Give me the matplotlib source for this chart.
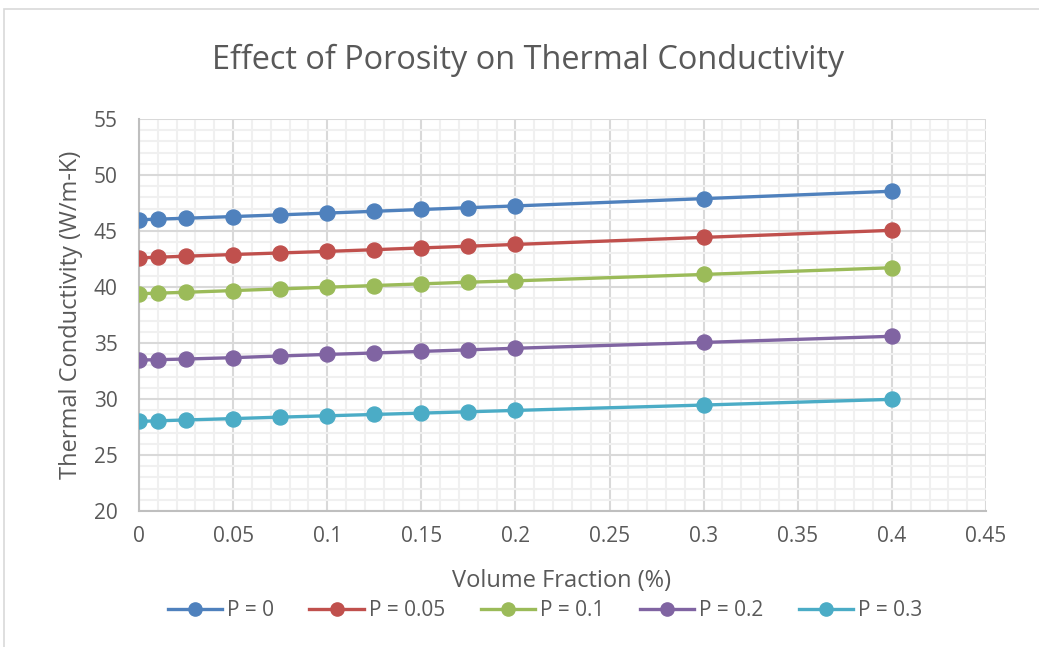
import matplotlib
matplotlib.use("Agg")
import matplotlib.pyplot as plt
from matplotlib.patches import Rectangle
from matplotlib.ticker import MultipleLocator
from matplotlib.lines import Line2D

plt.rcParams['font.family'] = ['Open Sans', 'DejaVu Sans']

volume_fraction = [0, 0.01, 0.025, 0.05, 0.075, 0.1, 0.125, 0.15, 0.175, 0.2, 0.3, 0.4]
series_labels = ["P = 0", "P = 0.05", "P = 0.1", "P = 0.2", "P = 0.3"]
p_000 = [46.0, 46.06, 46.14, 46.29, 46.44, 46.6, 46.76, 46.92, 47.08, 47.24, 47.89, 48.55]
p_005 = [42.6, 42.66, 42.75, 42.9, 43.04, 43.18, 43.33, 43.49, 43.64, 43.8, 44.43, 45.06]
p_010 = [39.4, 39.45, 39.53, 39.68, 39.83, 39.98, 40.13, 40.28, 40.43, 40.55, 41.12, 41.72]
p_020 = [33.48, 33.51, 33.57, 33.69, 33.84, 33.98, 34.11, 34.25, 34.39, 34.53, 35.05, 35.6]
p_030 = [28.0, 28.05, 28.13, 28.25, 28.38, 28.5, 28.62, 28.74, 28.86, 28.98, 29.46, 29.97]
series_values = [p_000, p_005, p_010, p_020, p_030]
colors = ["#4F81BD", "#C0504D", "#9BBB59", "#8064A2", "#4BACC6"]
x_tick_labels = ["0", "0.05", "0.1", "0.15", "0.2", "0.25", "0.3", "0.35", "0.4", "0.45"]

W, H = 1039, 647
fig = plt.figure(figsize=(W / 100, H / 100), dpi=100)
fig.patch.set_facecolor("white")

# outer chart border
fig.patches.append(Rectangle((4 / W, -0.2), 1.2, 1.2 - 9 / H, transform=fig.transFigure,
                             fill=False, edgecolor="#D9D9D9", linewidth=1.2))

ax = fig.add_axes([139 / W, 1 - 511 / H, (986 - 139) / W, (511 - 119) / H])

for vals, lab, c in zip(series_values, series_labels, colors):
    ax.plot(volume_fraction, vals, color=c, linewidth=2.4, marker="o",
            markersize=10.8, label=lab, zorder=3, solid_capstyle="round")

ax.set_xlim(0, 0.45)
ax.set_ylim(20, 55)
ax.xaxis.set_major_locator(MultipleLocator(0.05))
ax.xaxis.set_minor_locator(MultipleLocator(0.01))
ax.yaxis.set_major_locator(MultipleLocator(5))
ax.yaxis.set_minor_locator(MultipleLocator(1))
ax.grid(True, which="minor", color="#F0F0F0", linewidth=1.5, zorder=0)
ax.grid(True, which="major", color="#D9D9D9", linewidth=1.5, zorder=1)
ax.set_axisbelow(True)

for s in ["top", "right"]:
    ax.spines[s].set_visible(False)
for s in ["left", "bottom"]:
    ax.spines[s].set_color("#BFBFBF")
    ax.spines[s].set_linewidth(1.5)

ax.set_xticks([0, 0.05, 0.1, 0.15, 0.2, 0.25, 0.3, 0.35, 0.4, 0.45])
ax.set_xticklabels(x_tick_labels)
ax.tick_params(which="both", length=0, labelsize=15, labelcolor="#595959")
ax.tick_params(axis="y", pad=15.5)
ax.tick_params(axis="x", pad=10.5)

ax.set_xlabel("Volume Fraction (%)", fontsize=17, color="#595959")
ax.set_ylabel("Thermal Conductivity (W/m-K)", fontsize=17, color="#595959")
ax.xaxis.set_label_coords((561 - 139) / (986 - 139), -(581 - 511) / (511 - 119))
ax.xaxis.label.set_va("center")
ax.yaxis.set_label_coords(-(139 - 71) / (986 - 139), 0.5)
ax.yaxis.label.set_va("center")

fig.text(528.5 / W, 1 - 69.3 / H, "Effect of Porosity on Thermal Conductivity",
         ha="center", va="baseline", fontsize=23.4, color="#595959")

handles = [Line2D([0], [0], color=c, linewidth=2.4, marker="o", markersize=9.5)
           for c in colors]
fig.legend(handles, series_labels, loc="center", bbox_to_anchor=(545 / W, 1 - 611 / H),
           ncol=5, frameon=False, fontsize=15, labelcolor="#595959",
           handlelength=2.6, handletextpad=0.25, columnspacing=1.7)

fig.savefig("out.png", dpi=100, facecolor="white")
